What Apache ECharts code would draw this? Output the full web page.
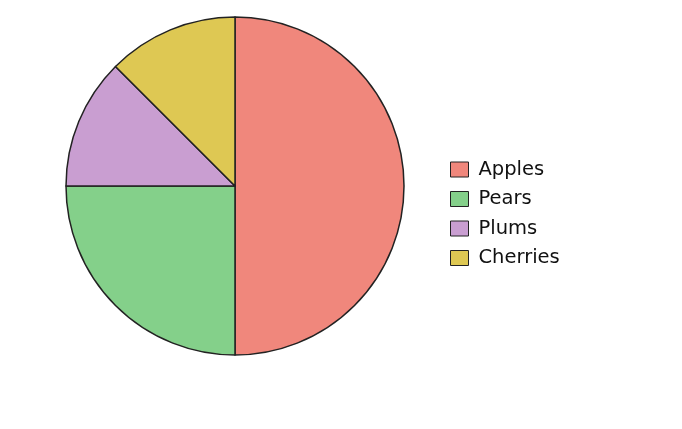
<!DOCTYPE html>
<html><head><meta charset="utf-8">
<script src="https://cdn.jsdelivr.net/npm/echarts@6/dist/echarts.min.js"></script>
<style>html,body{margin:0;padding:0;background:#fff}#c{width:682px;height:429px}</style>
</head><body><div id="c"></div>
<script>
const categories = ["Apples", "Pears", "Plums", "Cherries"];
const values = [50, 25, 12.5, 12.5];
const colors = ["#f0877c", "#84d08a", "#c99ed1", "#dec853"];

const chart = echarts.init(document.getElementById('c'));
chart.setOption({
  animation: false,
  color: colors,
  legend: {
    orient: 'vertical',
    left: 445,
    top: 154.5,
    itemWidth: 18,
    itemHeight: 15,
    itemGap: 9.5,
    icon: 'rect',
    itemStyle: { borderColor: '#222', borderWidth: 1 },
    textStyle: { fontFamily: 'DejaVu Sans', fontSize: 19.5, color: '#111', padding: [0, 0, 0, 5] },
    data: categories
  },
  series: [{
    type: 'pie',
    center: [235, 186],
    radius: 169,
    startAngle: 90,
    clockwise: true,
    label: { show: false },
    labelLine: { show: false },
    emphasis: { disabled: true },
    itemStyle: { borderColor: '#222', borderWidth: 1.5 },
    data: categories.map((n, i) => ({ name: n, value: values[i] }))
  }]
});
</script></body></html>
